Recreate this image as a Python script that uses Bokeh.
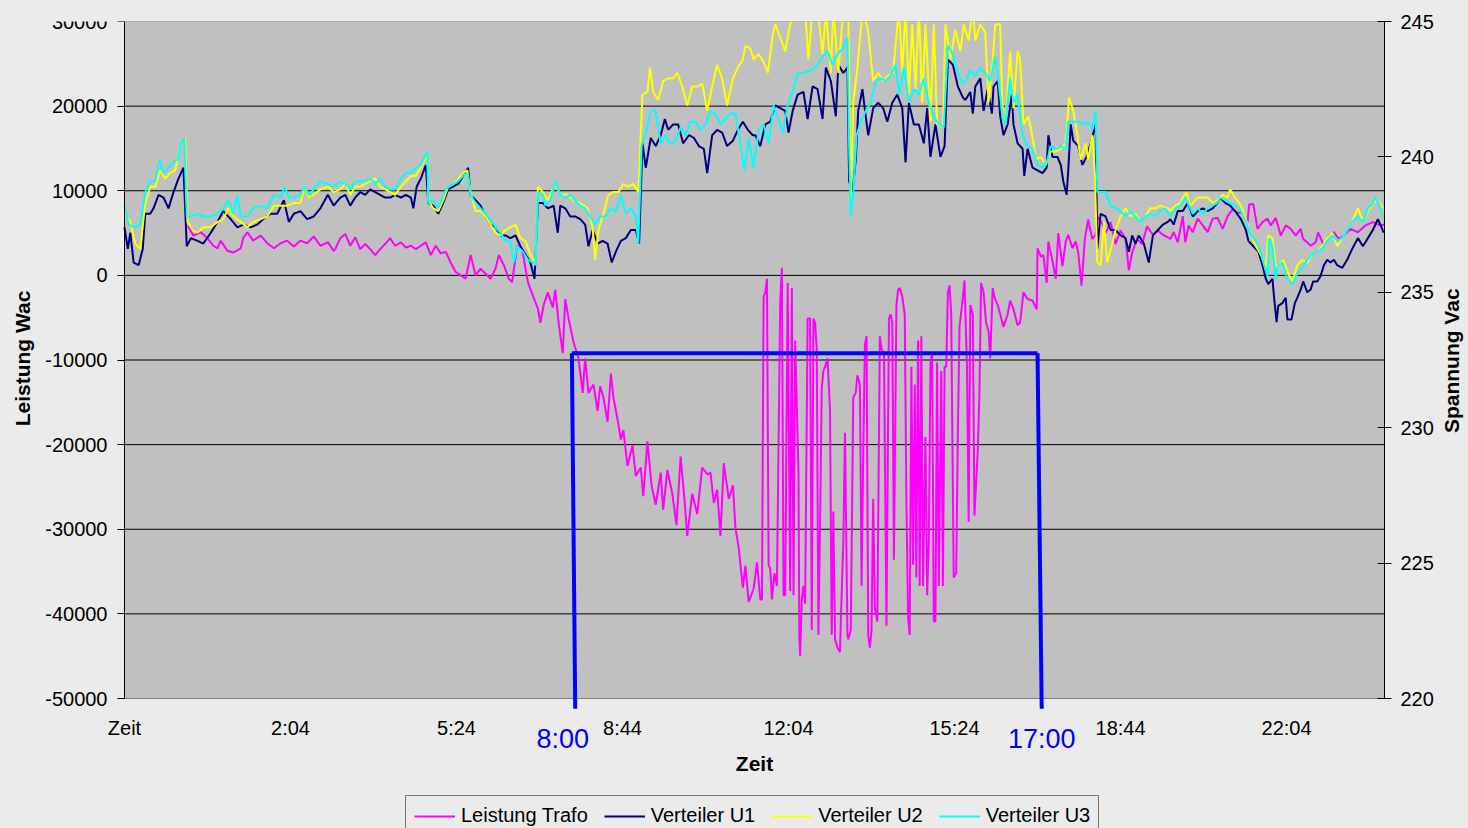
import math
from bokeh.plotting import figure
from bokeh.models import (Range1d, LinearAxis, FixedTicker, Legend, LegendItem, Arrow)
from bokeh.embed import file_html
from bokeh.resources import INLINE

# ---------------- data (time index in samples) -------------
tick_pos = [0, 200, 400, 600, 800, 1000, 1200, 1400]
tick_labels = ["Zeit", "2:04", "5:24", "8:44", "12:04", "15:24", "18:44", "22:04"]
left_ticks = [-50000, -40000, -30000, -20000, -10000, 0, 10000, 20000, 30000]
right_ticks = [220, 225, 230, 235, 240, 245]

t_trafo = [76, 83, 92, 100, 107, 112, 116, 124, 131, 140, 143, 148, 155, 164, 172, 180, 188, 196, 204, 212, 220, 228, 236, 245, 252, 254, 260, 266, 272, 278, 284, 290, 296, 302, 308, 314, 320, 326, 333, 339, 345, 351, 357, 363, 369, 375, 381, 387, 393, 399, 405, 411, 417, 423, 429, 435, 441, 447, 451, 457, 463, 467, 473, 479, 486, 492, 498, 501, 505, 510, 516, 519, 523, 528, 531, 535, 541, 547, 552, 555, 559, 565, 570, 573, 577, 582, 586, 589, 594, 598, 601, 606, 612, 616, 622, 625, 630, 635, 640, 646, 649, 654, 660, 665, 670, 675, 678, 684, 690, 696, 702, 706, 710, 714, 718, 722, 728, 733, 736, 740, 745, 748, 752, 758, 762, 766, 768, 770, 772, 774, 776, 778, 780, 783, 786, 790, 792, 794, 796, 799, 802, 804, 806, 808, 812, 813, 814, 816, 818, 820, 823, 826, 828, 830, 832, 834, 836, 838, 840, 842, 844, 847, 850, 852, 854, 856, 859, 862, 863, 866, 868, 871, 872, 875, 878, 881, 883, 886, 888, 890, 892, 894, 896, 898, 900, 902, 904, 907, 910, 912, 915, 918, 921, 923, 925, 927, 930, 932, 934, 937, 940, 942, 944, 946, 948, 950, 952, 954, 956, 958, 960, 962, 965, 967, 969, 971, 973, 975, 977, 979, 981, 984, 986, 988, 990, 992, 994, 996, 999, 1002, 1004, 1006, 1009, 1012, 1015, 1017, 1019, 1022, 1024, 1028, 1030, 1032, 1035, 1038, 1041, 1043, 1046, 1048, 1052, 1055, 1059, 1064, 1067, 1071, 1076, 1079, 1083, 1088, 1094, 1099, 1100, 1104, 1107, 1111, 1113, 1118, 1122, 1125, 1130, 1134, 1137, 1142, 1146, 1149, 1153, 1157, 1161, 1166, 1170, 1173, 1178, 1182, 1188, 1194, 1200, 1206, 1210, 1214, 1220, 1226, 1232, 1239, 1245, 1251, 1257, 1260, 1264, 1269, 1275, 1278, 1282, 1287, 1293, 1299, 1305, 1311, 1317, 1323, 1329, 1335, 1341, 1347, 1353, 1355, 1360, 1365, 1371, 1377, 1381, 1387, 1393, 1399, 1405, 1411, 1417, 1420, 1425, 1429, 1435, 1438, 1445, 1451, 1457, 1463, 1469, 1477, 1486, 1495, 1504, 1513, 1518]
p_trafo = [5900, 4700, 5100, 4400, 3500, 3200, 4100, 2900, 2700, 3200, 4400, 5100, 4100, 4700, 3800, 3200, 3800, 4100, 3400, 4100, 3800, 4600, 3500, 3900, 2900, 3100, 4400, 4900, 3500, 4500, 3100, 3700, 3100, 2400, 3100, 3700, 4400, 3500, 3900, 3300, 3500, 3100, 3500, 3900, 2400, 3500, 2600, 2800, 1500, 400, 0, -400, 2400, 0, 800, 200, -400, 800, 2400, 1200, -400, -800, 3500, 3100, -800, -2400, -3900, -5600, -3500, -2000, -3800, -1700, -5600, -9200, -2800, -5100, -7900, -9800, -13900, -9800, -13900, -12900, -16000, -13100, -14400, -17300, -11600, -14400, -17000, -19400, -18300, -22500, -20100, -23700, -22700, -26100, -19600, -24800, -27100, -23300, -27700, -23000, -25800, -29500, -21400, -26900, -30800, -25800, -28200, -22700, -23500, -23300, -26900, -25300, -30800, -22200, -26400, -24800, -29800, -32200, -36900, -34300, -38600, -37000, -33900, -38300, -38300, -2500, -2000, -400, -34200, -34700, -38300, -35200, -36700, -3000, 900, -37800, -37800, -900, -37300, -1500, -37800, -7700, -23300, -42700, -45000, -38300, -36700, -38800, -5100, -5100, -41900, -5100, -5600, -8700, -42500, -29500, -13400, -11300, -10800, -9800, -16000, -42500, -27900, -43000, -44000, -44500, -40900, -31600, -18600, -42500, -43000, -41900, -14400, -13900, -11800, -12900, -36700, -21200, -8200, -7200, -42500, -44000, -41900, -26400, -39300, -40900, -7200, -8700, -9200, -41400, -5100, -4600, -5600, -33600, -3500, -1700, -1500, -2500, -4600, -26400, -40400, -42500, -10800, -34200, -12900, -35700, -7700, -36700, -7200, -36700, -19100, -37800, -31600, -10300, -9200, -40900, -40900, -10300, -36700, -11300, -36700, -10800, -10800, -2000, -1200, -4600, -35700, -35200, -18600, -6100, -3500, -600, -10800, -29100, -3500, -4600, -28400, -20700, -13900, -900, -2000, -5600, -6600, -9800, -1500, -2500, -3500, -4600, -6100, -4600, -3000, -4000, -5900, -5600, -2000, -2800, -3000, -4000, 3200, 2200, 2400, -900, 4000, 1700, -400, 5000, 1100, 4000, 4800, 3200, 4000, 2700, -1200, 4300, 6600, 4300, 4800, 6900, 6100, 5000, 6300, 3700, 5300, 4300, 600, 2700, 4300, 3700, 5800, 4800, 5300, 4800, 4500, 4300, 5100, 3900, 7000, 3900, 5900, 5100, 6700, 5900, 5100, 6700, 6800, 5500, 7000, 7800, 7400, 7400, 6300, 8400, 8400, 5500, 6300, 6700, 5900, 6800, 4700, 5900, 5500, 4700, 5500, 4300, 3900, 3500, 3900, 5100, 3500, 4700, 5100, 4300, 4700, 5500, 5100, 5900, 6300, 5900, 6000]

t_u1 = [0, 4, 7, 11, 17, 22, 25, 31, 35, 41, 47, 53, 59, 65, 71, 75, 80, 88, 95, 104, 112, 119, 128, 136, 143, 152, 160, 167, 176, 184, 192, 198, 204, 212, 220, 228, 236, 245, 252, 260, 266, 272, 278, 284, 290, 296, 302, 308, 314, 320, 326, 333, 339, 345, 348, 352, 357, 363, 366, 372, 378, 384, 390, 396, 402, 408, 414, 417, 423, 429, 435, 441, 447, 453, 459, 465, 471, 477, 483, 489, 494, 498, 504, 510, 517, 522, 525, 531, 537, 543, 549, 555, 559, 564, 570, 576, 582, 587, 592, 598, 604, 610, 616, 620, 624, 628, 634, 640, 646, 651, 655, 661, 667, 673, 680, 686, 692, 698, 702, 708, 714, 720, 726, 733, 739, 745, 751, 757, 760, 766, 772, 778, 784, 790, 796, 800, 805, 811, 818, 823, 829, 835, 841, 845, 851, 857, 860, 866, 871, 873, 877, 881, 884, 889, 893, 896, 902, 908, 914, 919, 925, 931, 937, 941, 945, 951, 957, 963, 967, 971, 977, 983, 988, 992, 998, 1004, 1010, 1013, 1019, 1022, 1025, 1031, 1035, 1040, 1045, 1047, 1052, 1055, 1059, 1064, 1069, 1071, 1076, 1082, 1084, 1088, 1094, 1100, 1106, 1111, 1113, 1118, 1124, 1128, 1131, 1135, 1137, 1140, 1143, 1149, 1154, 1159, 1164, 1170, 1172, 1176, 1182, 1188, 1194, 1200, 1206, 1210, 1214, 1218, 1222, 1228, 1234, 1239, 1245, 1251, 1257, 1260, 1264, 1269, 1275, 1281, 1287, 1293, 1299, 1305, 1311, 1317, 1320, 1326, 1332, 1338, 1345, 1351, 1354, 1360, 1366, 1371, 1375, 1378, 1383, 1385, 1388, 1390, 1395, 1399, 1401, 1406, 1410, 1413, 1417, 1420, 1425, 1429, 1432, 1437, 1441, 1445, 1449, 1453, 1457, 1461, 1467, 1473, 1479, 1486, 1492, 1498, 1504, 1510, 1513, 1517]
v_u1 = [237.4, 236.6, 237.2, 236.1, 236.0, 236.6, 237.9, 237.9, 238.1, 238.6, 238.5, 238.1, 238.7, 239.2, 239.6, 236.7, 237.0, 236.9, 236.8, 237.2, 237.6, 238.0, 237.7, 237.4, 237.5, 237.4, 237.5, 237.7, 237.9, 237.9, 238.4, 237.6, 237.9, 238.0, 237.7, 237.8, 238.1, 238.6, 238.2, 238.5, 238.6, 238.2, 238.5, 238.7, 238.6, 238.8, 238.7, 238.6, 238.5, 238.5, 238.6, 238.5, 238.6, 238.5, 238.1, 238.9, 239.2, 239.7, 238.3, 238.2, 237.9, 238.3, 238.8, 238.9, 239.0, 239.3, 239.6, 238.6, 238.4, 238.2, 237.8, 237.5, 237.4, 237.1, 237.1, 237.0, 237.1, 236.7, 236.4, 236.1, 235.5, 238.3, 238.3, 238.1, 238.2, 237.2, 238.2, 238.1, 237.8, 237.8, 237.7, 237.5, 236.7, 237.3, 236.8, 236.9, 236.8, 236.1, 236.5, 236.9, 237.0, 237.3, 237.3, 236.8, 240.5, 239.6, 240.7, 240.4, 240.8, 241.4, 241.0, 241.2, 241.2, 240.5, 240.8, 240.7, 240.4, 240.3, 239.4, 240.8, 241.0, 240.9, 240.4, 240.6, 241.0, 241.3, 241.0, 240.8, 240.8, 240.4, 241.2, 241.3, 241.9, 241.8, 241.7, 240.9, 241.7, 242.3, 242.4, 241.4, 242.6, 242.5, 241.4, 243.3, 242.8, 241.5, 243.4, 243.1, 243.3, 239.1, 238.7, 239.9, 241.7, 242.5, 241.5, 240.8, 241.8, 242.0, 241.8, 241.3, 242.0, 242.3, 241.8, 239.8, 242.0, 241.2, 241.2, 240.5, 241.8, 240.0, 241.2, 240.0, 240.4, 243.6, 243.4, 242.6, 242.2, 242.1, 242.4, 241.6, 242.6, 242.9, 241.7, 242.5, 241.6, 242.6, 242.8, 241.5, 240.8, 241.2, 242.3, 241.2, 240.5, 240.3, 239.3, 240.3, 239.6, 239.5, 239.4, 239.6, 240.8, 240.0, 240.0, 239.7, 239.1, 238.6, 239.5, 241.2, 240.6, 240.4, 239.7, 240.0, 240.5, 241.2, 236.6, 237.9, 237.8, 237.3, 237.3, 237.1, 237.0, 236.5, 237.1, 236.8, 237.1, 236.8, 236.1, 237.1, 237.3, 237.5, 237.6, 237.7, 237.5, 238.0, 238.0, 238.3, 237.8, 238.0, 238.1, 238.0, 238.1, 238.3, 238.5, 238.3, 238.2, 238.0, 237.7, 237.3, 236.9, 236.7, 236.5, 236.0, 235.5, 235.3, 235.5, 234.8, 233.9, 234.5, 234.6, 234.8, 234.0, 234.0, 234.6, 234.8, 235.1, 235.4, 235.0, 235.1, 235.4, 235.4, 235.6, 236.0, 236.2, 236.1, 236.2, 236.0, 235.9, 236.2, 236.6, 237.0, 236.7, 237.0, 237.3, 237.7, 237.5, 237.2]

t_u2 = [0, 7, 13, 19, 25, 31, 37, 43, 49, 55, 61, 67, 73, 76, 82, 88, 95, 104, 112, 119, 125, 131, 140, 148, 155, 164, 172, 180, 188, 196, 204, 212, 217, 222, 228, 236, 245, 252, 260, 266, 272, 278, 284, 290, 296, 302, 308, 314, 320, 326, 333, 339, 345, 351, 357, 363, 365, 366, 372, 378, 384, 390, 396, 402, 408, 413, 417, 423, 429, 435, 441, 447, 453, 459, 465, 471, 477, 483, 489, 495, 498, 504, 510, 519, 525, 534, 541, 549, 558, 564, 567, 571, 577, 583, 589, 595, 601, 607, 613, 619, 624, 630, 633, 637, 643, 649, 655, 661, 666, 672, 678, 684, 690, 696, 702, 708, 714, 720, 726, 733, 739, 745, 748, 754, 758, 764, 770, 775, 781, 784, 790, 796, 802, 808, 814, 820, 824, 829, 835, 841, 845, 851, 854, 860, 866, 872, 875, 878, 883, 887, 890, 896, 902, 908, 914, 920, 926, 933, 937, 941, 945, 949, 953, 957, 961, 965, 971, 975, 979, 986, 989, 995, 1001, 1007, 1011, 1017, 1022, 1025, 1031, 1037, 1041, 1046, 1049, 1055, 1058, 1061, 1067, 1071, 1076, 1079, 1083, 1089, 1094, 1098, 1104, 1110, 1116, 1122, 1128, 1134, 1138, 1143, 1148, 1152, 1158, 1161, 1166, 1169, 1172, 1176, 1180, 1184, 1190, 1194, 1200, 1206, 1212, 1218, 1224, 1230, 1236, 1242, 1248, 1257, 1260, 1266, 1272, 1279, 1284, 1293, 1299, 1305, 1311, 1317, 1323, 1329, 1332, 1338, 1345, 1351, 1357, 1363, 1369, 1375, 1378, 1383, 1387, 1390, 1396, 1402, 1407, 1413, 1419, 1425, 1431, 1437, 1443, 1449, 1455, 1461, 1467, 1473, 1479, 1486, 1492, 1498, 1504, 1510, 1516]
v_u2 = [237.9, 237.6, 236.8, 236.6, 238.3, 238.9, 238.9, 239.5, 239.2, 239.4, 239.5, 240.4, 240.7, 237.6, 237.3, 237.2, 237.4, 237.4, 237.6, 237.7, 238.1, 237.8, 237.6, 237.4, 237.6, 237.7, 237.8, 238.2, 238.2, 238.2, 238.3, 238.3, 238.9, 238.5, 238.6, 238.8, 238.9, 238.7, 238.8, 239.0, 238.6, 238.9, 238.9, 239.0, 239.1, 239.2, 238.9, 238.8, 238.7, 238.6, 238.9, 239.1, 239.3, 239.3, 239.6, 240.0, 240.1, 238.4, 238.1, 238.0, 238.4, 238.9, 239.0, 239.2, 239.4, 239.5, 238.7, 238.0, 238.0, 237.8, 237.5, 237.2, 237.1, 237.3, 237.4, 237.5, 237.0, 236.9, 236.4, 236.1, 238.9, 238.7, 238.4, 239.0, 238.6, 238.6, 238.4, 238.3, 238.1, 237.4, 236.2, 237.3, 237.9, 238.6, 238.7, 238.7, 239.0, 238.9, 239.0, 238.7, 242.3, 242.4, 243.3, 242.4, 242.1, 242.8, 242.9, 242.9, 243.1, 242.6, 241.9, 242.6, 242.6, 242.7, 241.7, 242.6, 243.4, 242.9, 241.9, 242.9, 243.3, 243.6, 244.1, 244.0, 243.6, 243.8, 243.5, 243.1, 244.5, 244.9, 244.4, 243.9, 244.9, 245.4, 245.5, 245.4, 243.6, 245.5, 245.5, 243.8, 245.4, 243.1, 245.5, 243.1, 245.5, 245.3, 238.3, 242.0, 243.3, 244.7, 245.5, 244.6, 242.8, 243.1, 242.8, 243.0, 243.1, 245.5, 243.1, 245.5, 242.3, 244.9, 242.5, 245.5, 242.0, 244.9, 241.3, 244.9, 241.2, 241.1, 244.9, 243.6, 244.7, 243.9, 244.9, 244.3, 245.5, 244.3, 244.9, 244.6, 242.0, 243.6, 244.9, 244.9, 241.5, 241.2, 243.9, 241.8, 243.9, 243.6, 241.2, 241.5, 240.7, 239.9, 240.0, 239.7, 240.2, 240.2, 240.3, 240.5, 242.2, 241.7, 240.8, 239.9, 240.5, 239.9, 240.8, 239.4, 236.1, 236.0, 237.6, 236.1, 236.8, 237.3, 237.8, 238.1, 237.8, 237.9, 237.6, 237.8, 238.1, 238.1, 238.2, 238.1, 238.0, 238.2, 238.3, 238.7, 238.2, 238.5, 238.5, 238.5, 238.3, 238.4, 238.6, 238.5, 238.8, 238.5, 238.2, 237.7, 237.1, 236.7, 236.4, 235.9, 237.1, 237.0, 236.0, 235.9, 236.2, 235.7, 235.4, 236.0, 236.2, 236.1, 236.4, 236.5, 236.7, 237.0, 237.2, 236.7, 237.0, 237.3, 237.6, 238.1, 237.6, 238.0, 238.3, 238.4, 238.1]

t_u3 = [0, 5, 13, 19, 25, 31, 37, 42, 47, 53, 59, 64, 67, 72, 75, 80, 88, 95, 104, 112, 119, 125, 131, 136, 140, 148, 155, 164, 172, 180, 188, 193, 198, 204, 212, 217, 222, 228, 236, 245, 252, 260, 266, 272, 278, 284, 290, 296, 302, 308, 314, 320, 326, 333, 339, 345, 351, 357, 363, 365, 366, 372, 378, 384, 390, 396, 402, 408, 413, 417, 423, 429, 435, 441, 447, 453, 459, 465, 469, 473, 480, 486, 492, 495, 498, 504, 507, 513, 519, 525, 531, 537, 543, 549, 555, 561, 567, 573, 580, 586, 592, 598, 604, 610, 616, 619, 623, 628, 634, 640, 646, 652, 658, 664, 670, 676, 682, 688, 694, 700, 706, 712, 718, 724, 730, 736, 742, 747, 752, 758, 764, 770, 776, 782, 788, 793, 799, 805, 811, 818, 827, 835, 841, 847, 853, 859, 865, 871, 873, 875, 878, 882, 887, 893, 899, 905, 911, 917, 923, 929, 933, 939, 945, 951, 957, 963, 969, 975, 981, 987, 992, 998, 1004, 1010, 1013, 1019, 1025, 1031, 1037, 1043, 1049, 1053, 1058, 1061, 1067, 1071, 1076, 1082, 1088, 1094, 1100, 1106, 1112, 1116, 1122, 1128, 1134, 1137, 1143, 1149, 1155, 1161, 1166, 1170, 1172, 1176, 1182, 1188, 1194, 1200, 1206, 1212, 1218, 1224, 1230, 1236, 1242, 1248, 1254, 1260, 1266, 1272, 1278, 1287, 1293, 1299, 1305, 1311, 1317, 1320, 1326, 1332, 1338, 1345, 1351, 1357, 1363, 1369, 1373, 1377, 1379, 1383, 1387, 1389, 1395, 1401, 1407, 1413, 1419, 1425, 1431, 1437, 1443, 1449, 1455, 1461, 1467, 1473, 1479, 1486, 1492, 1498, 1504, 1507, 1511, 1516]
v_u3 = [238.2, 237.5, 237.4, 237.5, 238.7, 239.1, 239.1, 239.9, 239.4, 239.6, 239.8, 239.9, 240.4, 240.7, 237.8, 237.8, 237.9, 237.8, 237.8, 237.9, 238.1, 238.4, 237.9, 238.6, 237.8, 237.8, 238.1, 238.2, 238.1, 238.6, 238.5, 238.9, 238.5, 238.5, 238.6, 238.9, 238.6, 238.8, 239.1, 239.0, 238.9, 239.1, 239.0, 238.8, 239.1, 239.1, 239.1, 239.2, 239.0, 239.2, 238.9, 238.8, 238.8, 239.2, 239.4, 239.4, 239.6, 239.7, 240.1, 240.2, 238.3, 238.4, 238.1, 238.6, 238.9, 239.0, 239.1, 239.3, 239.4, 238.6, 238.3, 238.1, 237.9, 237.7, 237.4, 237.2, 236.9, 236.9, 236.1, 236.7, 236.5, 236.2, 236.1, 236.0, 238.7, 238.6, 238.2, 238.4, 239.1, 238.6, 238.5, 238.6, 238.4, 238.2, 238.1, 237.8, 237.5, 237.8, 237.8, 238.1, 238.0, 238.6, 237.9, 238.1, 237.8, 236.8, 240.4, 240.9, 241.7, 241.7, 240.5, 240.8, 240.5, 240.6, 241.1, 240.8, 241.3, 241.3, 241.0, 241.2, 241.7, 241.6, 241.2, 241.4, 241.6, 241.6, 240.5, 239.5, 240.7, 239.6, 241.0, 241.2, 240.5, 241.9, 241.4, 240.9, 241.9, 242.4, 243.1, 243.1, 243.2, 243.4, 243.7, 243.9, 243.4, 243.8, 244.0, 244.4, 240.4, 237.8, 238.7, 240.8, 241.3, 241.7, 242.0, 242.8, 242.9, 242.8, 243.0, 243.4, 242.3, 243.3, 242.0, 242.5, 242.3, 242.9, 242.0, 241.5, 241.2, 241.1, 244.1, 243.8, 243.1, 242.7, 242.8, 243.2, 243.0, 243.3, 243.1, 242.8, 243.7, 242.8, 241.4, 241.2, 242.9, 242.0, 242.3, 240.8, 240.4, 240.3, 239.7, 239.6, 239.9, 240.4, 240.3, 240.4, 240.3, 241.3, 241.3, 241.3, 241.2, 241.3, 241.0, 241.7, 238.7, 238.7, 238.7, 238.2, 238.1, 238.0, 237.8, 238.0, 237.8, 237.6, 237.8, 237.9, 237.8, 238.0, 238.1, 237.8, 238.1, 238.2, 238.5, 237.9, 238.1, 237.9, 238.1, 238.2, 238.3, 238.5, 238.4, 238.3, 238.2, 238.0, 237.6, 237.1, 236.9, 236.5, 236.0, 235.6, 237.0, 236.7, 235.5, 235.9, 236.1, 235.5, 235.3, 235.7, 235.9, 236.2, 236.4, 236.5, 236.6, 236.9, 237.1, 236.9, 237.0, 237.3, 237.6, 237.8, 237.6, 238.1, 238.3, 238.5, 238.3, 237.8]

# hand-drawn annotation: working hours bracket (time index, power level)
bracket_start = [539, 543]      # top, bottom of the 8:00 line
bracket_end = [1100, 1105]      # top, bottom of the 17:00 line
bracket_level = -9200
bracket_bottom = -51200
note_pos = [528, 1105]
note_labels = ["8:00", "17:00"]

FONT = "Liberation Sans"
X_MAX = 1518
P_MIN, P_MAX = -50000, 30000
V_MIN, V_MAX = 220, 245
PLOT_W, PLOT_H = 1260, 677          # plot area size in px
LEFT_PAD, BELOW_PAD = 120, 130      # frame space left of / below the plot area (for texts)
FRAME_W, FRAME_H = PLOT_W + LEFT_PAD, PLOT_H + BELOW_PAD
X_LOW = -X_MAX * LEFT_PAD / PLOT_W
P_LOW = P_MAX - (P_MAX - P_MIN) * FRAME_H / PLOT_H
V_LOW = V_MAX - (V_MAX - V_MIN) * FRAME_H / PLOT_H
X_TITLE_POS = 759                   # centre of the x title
LEFT_TITLE_TOP = -1800              # where the rotated left title ends (top)
RIGHT_TITLE_START = 229.8           # where the rotated right title begins (bottom)

p = figure(frame_width=FRAME_W, frame_height=FRAME_H, output_backend="svg",
           toolbar_location=None,
           x_range=Range1d(X_LOW, X_MAX), y_range=Range1d(P_LOW, P_MAX),
           min_border_left=4, min_border_right=84, min_border_top=21,
           min_border_bottom=0)
p.extra_y_ranges = {"v": Range1d(V_LOW, V_MAX)}
p.background_fill_color = "#EBEBEB"
p.border_fill_color = "#EBEBEB"
p.outline_line_color = None

# grey plot area and its horizontal grid lines
p.quad(left=[0], right=[X_MAX], bottom=[P_MIN], top=[P_MAX], fill_color="#C0C0C0",
       line_color="#808080", line_width=1, level="image")
grid_vals = left_ticks[1:-1]
p.segment(x0=[0] * len(grid_vals), x1=[X_MAX] * len(grid_vals), y0=grid_vals, y1=grid_vals,
          line_color="black", line_width=1, level="underlay")
p.xgrid.visible = False
p.ygrid.visible = False


def bare_axis(ax):
    ax.axis_line_color = None
    ax.major_tick_line_color = None
    ax.minor_tick_line_color = None
    ax.major_tick_out = 0
    ax.major_tick_in = 0
    ax.minor_tick_out = 0
    ax.minor_tick_in = 0
    ax.major_label_text_font = FONT


# x axis: time labels
xa = p.xaxis[0]
xa.fixed_location = P_MIN
xa.ticker = FixedTicker(ticks=tick_pos)
xa.major_label_overrides = {k: v for k, v in zip(tick_pos, tick_labels)}
bare_axis(xa)
xa.major_label_standoff = 18
xa.major_label_text_font_size = "20px"
xa.major_label_text_color = "black"

# hand-written 8:00 / 17:00 notes
xb = LinearAxis(ticker=FixedTicker(ticks=note_pos),
                major_label_overrides={k: v for k, v in zip(note_pos, note_labels)})
xb.fixed_location = P_MIN
bare_axis(xb)
xb.major_label_standoff = 25
xb.major_label_text_font_size = "27px"
xb.major_label_text_color = "#0000FF"
p.add_layout(xb, "below")

# x title
xc = LinearAxis(ticker=FixedTicker(ticks=[X_TITLE_POS]),
                major_label_overrides={X_TITLE_POS: "Zeit"})
xc.fixed_location = P_MIN
bare_axis(xc)
xc.major_label_standoff = 53
xc.major_label_text_font_size = "21px"
xc.major_label_text_font_style = "bold"
xc.major_label_text_color = "black"
p.add_layout(xc, "below")

# left axis (drawn at time 0, inside the widened frame)
ya = p.yaxis[0]
ya.fixed_location = 0
ya.bounds = (P_MIN, P_MAX)
ya.ticker = FixedTicker(ticks=left_ticks)
ya.major_label_overrides = {k: str(k) for k in left_ticks}
ya.axis_line_color = "black"
ya.major_tick_line_color = "black"
ya.major_tick_out = 7
ya.major_tick_in = 0
ya.minor_tick_line_color = None
ya.major_label_standoff = 10
ya.major_label_text_font = FONT
ya.major_label_text_font_size = "20px"
ya.major_label_text_color = "black"

lt = LinearAxis(ticker=FixedTicker(ticks=[LEFT_TITLE_TOP]),
                major_label_overrides={LEFT_TITLE_TOP: "Leistung Wac"},
                major_label_orientation=math.pi / 2)
lt.fixed_location = 0
bare_axis(lt)
lt.major_label_standoff = 102
lt.major_label_text_font_size = "21px"
lt.major_label_text_font_style = "bold"
lt.major_label_text_color = "black"
p.add_layout(lt, "left")

# right axis
ra = LinearAxis(y_range_name="v", ticker=FixedTicker(ticks=right_ticks), bounds=(V_MIN, V_MAX))
ra.axis_line_color = "black"
ra.major_tick_line_color = "black"
ra.major_tick_out = 7
ra.major_tick_in = 7
ra.minor_tick_line_color = None
ra.major_label_standoff = 9
ra.major_label_text_font = FONT
ra.major_label_text_font_size = "20px"
ra.major_label_text_color = "black"
p.add_layout(ra, "right")

rt = LinearAxis(y_range_name="v", ticker=FixedTicker(ticks=[RIGHT_TITLE_START]),
                major_label_overrides={RIGHT_TITLE_START: "Spannung Vac"},
                major_label_orientation=math.pi / 2)
bare_axis(rt)
rt.major_label_standoff = 15
rt.major_label_text_font_size = "21px"
rt.major_label_text_font_style = "bold"
rt.major_label_text_color = "black"
p.add_layout(rt, "right")

# series
r_tr = p.line(t_trafo, p_trafo, line_color="#FF00FF", line_width=2)
r_u1 = p.line(t_u1, v_u1, line_color="#000080", line_width=2, y_range_name="v")
r_u2 = p.line(t_u2, v_u2, line_color="#FFFF00", line_width=2, y_range_name="v")
r_u3 = p.line(t_u3, v_u3, line_color="#00FFFF", line_width=2, y_range_name="v")

# bracket annotation
for xs, ys, xe, ye in [
    (bracket_start[1], bracket_bottom, bracket_start[0], bracket_level),
    (bracket_start[0], bracket_level, bracket_end[0], bracket_level),
    (bracket_end[0], bracket_level, bracket_end[1], bracket_bottom),
]:
    p.add_layout(Arrow(end=None, x_start=xs, y_start=ys, x_end=xe, y_end=ye,
                       line_color="#0000FF", line_width=4))

legend = Legend(items=[
    LegendItem(label="Leistung Trafo", renderers=[r_tr]),
    LegendItem(label="Verteiler U1", renderers=[r_u1]),
    LegendItem(label="Verteiler U2", renderers=[r_u2]),
    LegendItem(label="Verteiler U3", renderers=[r_u3]),
], orientation="horizontal", location=(281 + LEFT_PAD, -8))
legend.background_fill_color = "#EBEBEB"
legend.background_fill_alpha = 1
legend.border_line_color = "black"
legend.border_line_width = 1
legend.label_text_font = FONT
legend.label_text_font_size = "20px"
legend.label_text_color = "black"
legend.glyph_width = 41
legend.glyph_height = 20
legend.label_standoff = 6
legend.spacing = 16
legend.padding = 8
legend.margin = 0
p.add_layout(legend)

html = file_html(p, INLINE)
html = html.replace("</head>",
                    "<style>html,body{overflow:hidden;background:#EBEBEB;}</style></head>", 1)
open("out.html", "w").write(html)
